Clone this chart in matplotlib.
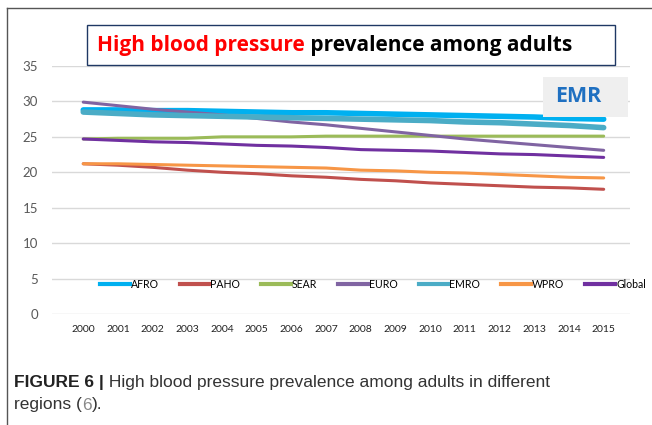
import matplotlib.pyplot as plt
from matplotlib.patches import Rectangle
from matplotlib.lines import Line2D

years = list(range(2000, 2016))
regions = ["AFRO", "PAHO", "SEAR", "EURO", "EMRO", "WPRO", "Global"]

afro = [28.8, 28.8, 28.7, 28.7, 28.6, 28.5, 28.4, 28.4, 28.3, 28.2, 28.1, 28.0, 27.9, 27.8, 27.6, 27.5]
paho = [21.2, 21.0, 20.7, 20.3, 20.0, 19.8, 19.5, 19.3, 19.0, 18.8, 18.5, 18.3, 18.1, 17.9, 17.8, 17.6]
sear = [24.7, 24.8, 24.8, 24.8, 25.0, 25.0, 25.0, 25.1, 25.1, 25.1, 25.1, 25.1, 25.1, 25.1, 25.1, 25.1]
euro = [29.9, 29.4, 28.9, 28.5, 28.1, 27.6, 27.1, 26.7, 26.2, 25.7, 25.2, 24.7, 24.3, 23.9, 23.5, 23.1]
emro = [28.5, 28.3, 28.1, 28.0, 27.9, 27.8, 27.7, 27.6, 27.5, 27.4, 27.3, 27.1, 27.0, 26.8, 26.6, 26.3]
wpro = [21.2, 21.2, 21.1, 21.0, 20.9, 20.8, 20.7, 20.6, 20.3, 20.2, 20.0, 19.9, 19.7, 19.5, 19.3, 19.2]
glob = [24.7, 24.5, 24.3, 24.2, 24.0, 23.8, 23.7, 23.5, 23.2, 23.1, 23.0, 22.8, 22.6, 22.5, 22.3, 22.1]

series = [afro, paho, sear, euro, emro, wpro, glob]
colors = ["#00B0F0", "#C0504D", "#9BBB59", "#8064A2", "#4BACC6", "#F79646", "#7030A0"]
widths = [4.0, 2.2, 2.2, 2.2, 4.0, 2.2, 2.2]

plt.rcParams['font.family'] = ['Lato', 'DejaVu Sans']

fig = plt.figure(figsize=(6.52, 4.25), dpi=100)
ax = fig.add_axes([0.0798, 0.2612, 0.886, 0.5835])

for vals, c, w, name in zip(series, colors, widths, regions):
    ax.plot(years, vals, color=c, lw=w, solid_capstyle='round', label=name)

ax.set_ylim(0, 35)
ax.set_xlim(1999.1, 2015.75)
ax.set_yticks(range(0, 36, 5))
ax.set_xticks(years)
ax.grid(axis='y', color='#D9D9D9', lw=1)
ax.set_axisbelow(True)
for s in ax.spines.values():
    s.set_visible(False)
ax.tick_params(length=0)
ax.tick_params(axis='y', labelsize=9.5, labelcolor='#595959', pad=10)
ax.tick_params(axis='x', labelsize=7.5, labelcolor='#222222', pad=8)

handles = [Line2D([], [], color=c, lw=3) for c in colors]
ax.legend(handles, regions, loc='center left', bbox_to_anchor=(0.083, 0.12), ncol=7,
          frameon=False, fontsize=7.6, handlelength=2.8, handletextpad=0.1,
          columnspacing=2.0, borderaxespad=0, borderpad=0)

# title box
fig.patches.append(Rectangle((87 / 652, 1 - 65 / 425), (615 - 87) / 652, 40 / 425,
                             transform=fig.transFigure, fill=False,
                             edgecolor='#1F3864', lw=1))
t1 = fig.text(97 / 652, 1 - 45 / 425, "High blood pressure", color='#FF0000',
              fontsize=15, fontweight='bold', va='center', family=['Open Sans', 'DejaVu Sans'])
ax.annotate(" prevalence among adults", xy=(1, 0.5), xycoords=t1, va='center',
            fontsize=15, fontweight='bold', color='black', family=['Open Sans', 'DejaVu Sans'],
            annotation_clip=False)

# EMR box
fig.patches.append(Rectangle((543 / 652, 1 - 117 / 425), 85 / 652, 40 / 425,
                             transform=fig.transFigure, color='#EFEFEF', lw=0))
fig.text(578 / 652, 1 - 97 / 425, "EMR", color='#1F70C1', fontsize=15.5,
         fontweight='bold', ha='center', va='center', family=['Open Sans', 'DejaVu Sans'])

# frame lines
fig.add_artist(Line2D([7 / 652, 7 / 652], [0, 1 - 8 / 425], color='#555555', lw=1,
                      transform=fig.transFigure))
fig.add_artist(Line2D([7 / 652, 1], [1 - 8 / 425, 1 - 8 / 425], color='#555555', lw=1,
                      transform=fig.transFigure))

# caption
cap_font = ['Liberation Sans', 'DejaVu Sans']
c1 = fig.text(14 / 652, 1 - 383 / 425, "FIGURE 6 |", fontsize=12.5, fontweight='bold',
              color='#222222', va='center', family=cap_font)
ax.annotate(" High blood pressure prevalence among adults in different", xy=(1, 0.5),
            xycoords=c1, va='center', fontsize=12.5, color='#333333', family=cap_font,
            annotation_clip=False)
c2 = fig.text(14 / 652, 1 - 405 / 425, "regions (", fontsize=12.5, color='#333333',
              va='center', family=cap_font)
c3 = ax.annotate("6", xy=(1, 0.5), xycoords=c2, va='center', fontsize=12.5,
                 color='#888888', family=cap_font, annotation_clip=False)
ax.annotate(").", xy=(1, 0.5), xycoords=c3, va='center', fontsize=12.5,
            color='#333333', family=cap_font, annotation_clip=False)

fig.savefig("out.png", dpi=100)
